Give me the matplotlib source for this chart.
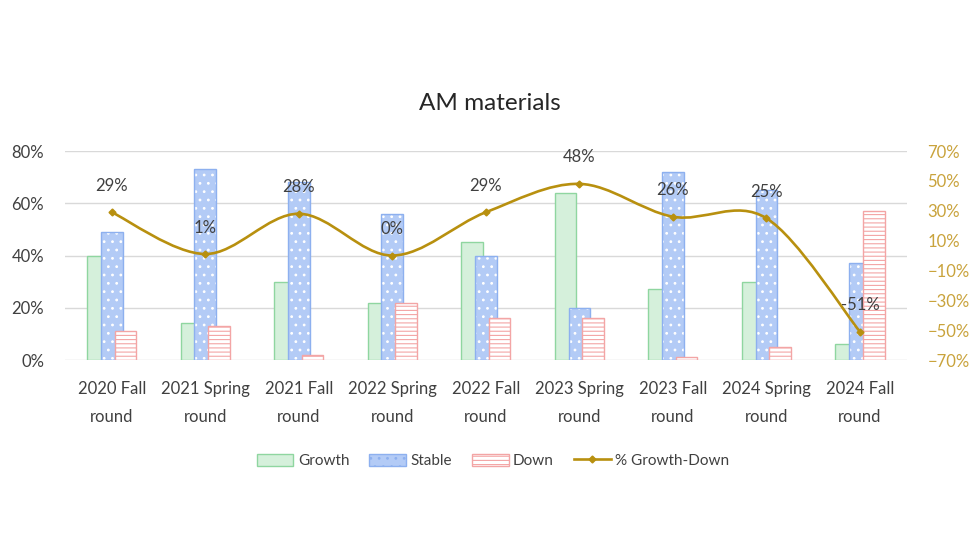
import numpy as np
import matplotlib.pyplot as plt
from matplotlib.path import Path
from matplotlib.patches import PathPatch, Patch
from matplotlib.lines import Line2D
from matplotlib.ticker import PercentFormatter

# data
rounds = ["2020 Fall\nround", "2021 Spring\nround", "2021 Fall\nround",
          "2022 Spring\nround", "2022 Fall\nround", "2023 Spring\nround",
          "2023 Fall\nround", "2024 Spring\nround", "2024 Fall\nround"]
growth = [40, 14, 30, 22, 45, 64, 27, 30, 6]
stable = [49, 73, 68, 56, 40, 20, 72, 65, 37]
down = [11, 13, 2, 22, 16, 16, 1, 5, 57]
net = [29, 1, 28, 0, 29, 48, 26, 25, -51]
left_ticks = [0, 20, 40, 60, 80]
right_ticks = [-70, -50, -30, -10, 10, 30, 50, 70]

plt.rcParams['font.family'] = ['Lato', 'DejaVu Sans']
plt.rcParams['hatch.linewidth'] = 0.8

text_col = '#404040'
gold = '#b8900f'
green_fc, green_ec = '#d5f0db', '#8fd6a0'
blue_fc, blue_ec = '#b3cbf6', '#8db0ef'
pink_ec = '#f3a5a5'

fig = plt.figure(figsize=(9.8, 5.6), dpi=100)
ax = fig.add_axes([0.0663, 0.3571, 0.8589, 0.3732])
ax2 = ax.twinx()

x = np.arange(len(rounds))
w = 0.232
off = 0.147

ax.bar(x - off, growth, w, color=green_fc, edgecolor=green_ec, linewidth=1, zorder=2)
# stable: blue fill with white dots, then blue outline on top
ax.bar(x, stable, w, color=blue_fc, edgecolor='white', hatch='..', linewidth=0, zorder=3)
ax.bar(x, stable, w, facecolor='none', edgecolor=blue_ec, linewidth=1, zorder=3)
ax.bar(x + off, down, w, color='white', edgecolor=pink_ec, hatch='----', linewidth=1, zorder=4)

ax.set_xlim(-0.5, len(rounds) - 0.5)
ax.set_ylim(0, 80)
ax.set_yticks(left_ticks)
ax.yaxis.set_major_formatter(PercentFormatter(decimals=0))
ax.set_xticks(x)
ax.set_xticklabels(rounds, linespacing=1.9)
ax.tick_params(axis='x', length=0, pad=15, labelsize=12, labelcolor=text_col)
ax.tick_params(axis='y', length=0, pad=15, labelsize=12, labelcolor=text_col)
ax.grid(axis='y', color='#d9d9d9', linewidth=1, zorder=0)
ax.set_axisbelow(True)
for s in ax.spines.values():
    s.set_visible(False)

# smoothed line (Excel style) through the net values
pts = np.column_stack([x, net]).astype(float)
verts = [tuple(pts[0])]
codes = [Path.MOVETO]
n = len(pts)
for i in range(n - 1):
    p0 = pts[max(i - 1, 0)]
    p1 = pts[i]
    p2 = pts[i + 1]
    p3 = pts[min(i + 2, n - 1)]
    c1 = p1 + (p2 - p0) / 6
    c2 = p2 - (p3 - p1) / 6
    verts += [tuple(c1), tuple(c2), tuple(p2)]
    codes += [Path.CURVE4] * 3
ax2.add_patch(PathPatch(Path(verts, codes), facecolor='none', edgecolor=gold,
                        linewidth=1.9, zorder=5))
ax2.plot(x, net, linestyle='none', marker='D', markersize=3.5, color=gold, zorder=6)
for xi, v in zip(x, net):
    ax2.annotate(f"{v}%", (xi, v), xytext=(0, 19), textcoords='offset points',
                 ha='center', va='center', fontsize=12, color=text_col, zorder=7)

ax2.set_ylim(-70, 70)
ax2.set_yticks(right_ticks)
ax2.yaxis.set_major_formatter(PercentFormatter(decimals=0))
ax2.tick_params(axis='y', length=0, pad=15, labelsize=12, labelcolor='#c9a33c')
for s in ax2.spines.values():
    s.set_visible(False)

fig.text(0.5, 1 - 103 / 560, "AM materials", ha='center', va='center',
         fontsize=17.5, color='#262626')

handles = [
    Patch(facecolor=green_fc, edgecolor=green_ec, label='Growth'),
    Patch(facecolor=blue_fc, edgecolor=blue_ec, hatch='..', label='Stable'),
    Patch(facecolor='white', edgecolor=pink_ec, hatch='----', label='Down'),
    Line2D([0], [0], color=gold, linewidth=1.9, marker='D', markersize=3.5, label='% Growth-Down'),
]
fig.legend(handles=handles, loc='center', bbox_to_anchor=(0.503, 1 - 461 / 560),
           ncol=4, frameon=False, fontsize=11, labelcolor=text_col,
           handlelength=2.4, handleheight=0.85, handletextpad=0.3, columnspacing=1.3)

fig.savefig('out.png', dpi=100)
